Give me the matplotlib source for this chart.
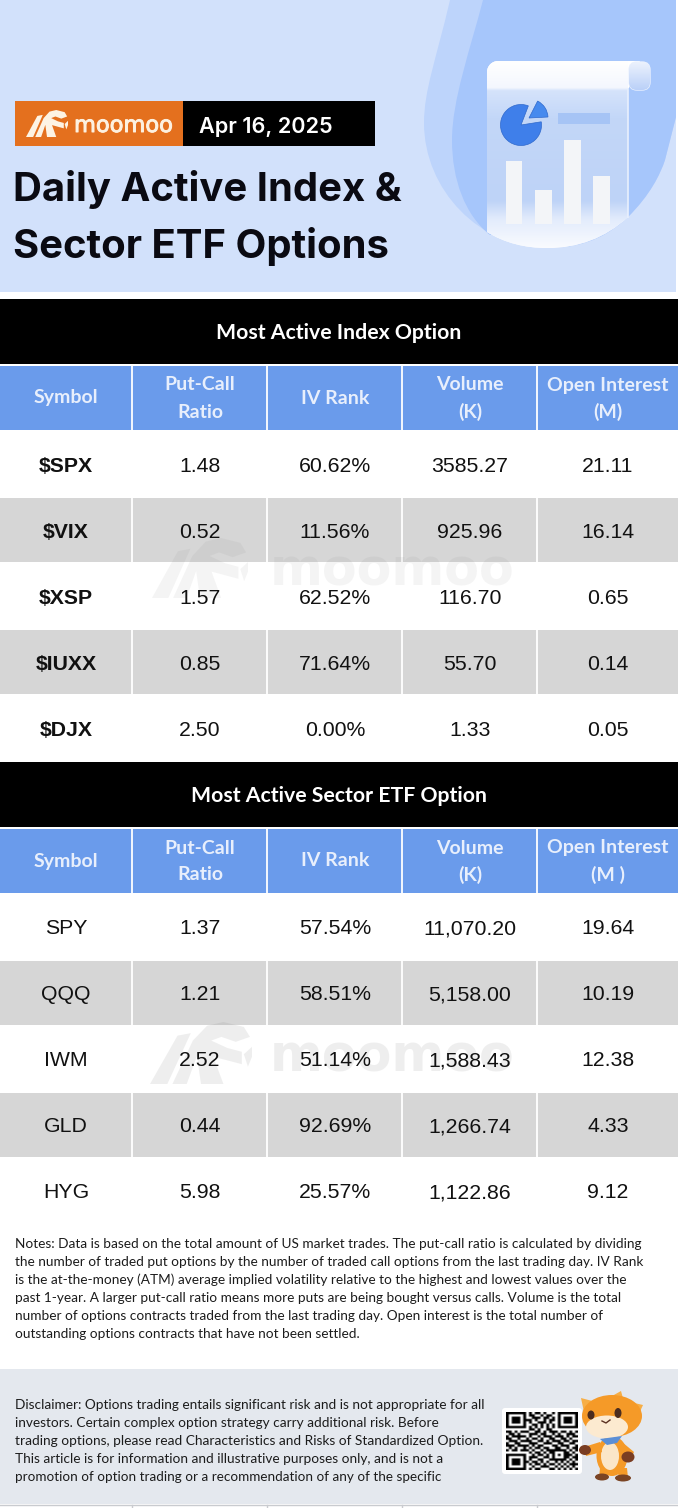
import numpy as np
import matplotlib
matplotlib.use("Agg")
import matplotlib.pyplot as plt
import matplotlib.patheffects as pe
from matplotlib.colors import LinearSegmentedColormap
from matplotlib.patches import Rectangle, Ellipse, Polygon, PathPatch, Wedge, FancyBboxPatch
from matplotlib.path import Path

W, H = 678, 1508

columns = [66, 200, 335, 470, 608]
col_lines = [132, 267, 402, 537]

index_title = "Most Active Index Option"
index_headers = [["Symbol"], ["Put-Call", "Ratio"], ["IV Rank"], ["Volume", "(K)"], ["Open Interest", "(M)"]]
index_symbols = ["$SPX", "$VIX", "$XSP", "$IUXX", "$DJX"]
index_ratio = ["1.48", "0.52", "1.57", "0.85", "2.50"]
index_rank = ["60.62%", "11.56%", "62.52%", "71.64%", "0.00%"]
index_volume = ["3585.27", "925.96", "116.70", "55.70", "1.33"]
index_oi = ["21.11", "16.14", "0.65", "0.14", "0.05"]

etf_title = "Most Active Sector ETF Option"
etf_headers = [["Symbol"], ["Put-Call", "Ratio"], ["IV Rank"], ["Volume", "(K)"], ["Open Interest", "(M )"]]
etf_symbols = ["SPY", "QQQ", "IWM", "GLD", "HYG"]
etf_ratio = ["1.37", "1.21", "2.52", "0.44", "5.98"]
etf_rank = ["57.54%", "58.51%", "51.14%", "92.69%", "25.57%"]
etf_volume = ["11,070.20", "5,158.00", "1,588.43", "1,266.74", "1,122.86"]
etf_oi = ["19.64", "10.19", "12.38", "4.33", "9.12"]

notes = [
    "Notes: Data is based on the total amount of US market trades. The put-call ratio is calculated by dividing",
    "the number of traded put options by the number of traded call options from the last trading day. IV Rank",
    "is the at-the-money (ATM) average implied volatility relative to the highest and lowest values over the",
    "past 1-year. A larger put-call ratio means more puts are being bought versus calls. Volume is the total",
    "number of options contracts traded from the last trading day. Open interest is the total number of",
    "outstanding options contracts that have not been settled.",
]
notes_right = [639, 638, 623, 618, 602, 359]

disclaimer = [
    "Disclaimer: Options trading entails significant risk and is not appropriate for all",
    "investors. Certain complex option strategy carry additional risk. Before",
    "trading options, please read Characteristics and Risks of Standardized Option.",
    "This article is for information and illustrative purposes only, and is not a",
    "promotion of option trading or a recommendation of any of the specific",
]
disclaimer_right = [483, 438, 485, 441, 441]

# heights of the bars in the little banner picture
banner_bars = [63, 34, 84, 48]

qr_rows = [
    "1111111010110100101111111",
    "1000001011001011001000001",
    "1011101001110110101011101",
    "1011101110100101101011101",
    "1011101010011101001011101",
    "1000001001101010101000001",
    "1111111010101010101111111",
    "0000000011010011000000000",
    "1101011100110101110110101",
    "0110100011101100101001110",
    "1011111010010111011101011",
    "1100100101101001100110100",
    "0111011110011010111011011",
    "1001100011100111001100110",
    "1110111101011000110111001",
    "0101001010110110011001011",
    "1011011101001011111110101",
    "0000000010110101100011010",
    "1111111001011010101011101",
    "1000001011100110100011011",
    "1011101010011001111110101",
    "1011101101101010010101010",
    "1011101010110101101010111",
    "1000001001001110010101010",
    "1111111010110001101010101",
]

plt.rcParams["font.family"] = ["Liberation Sans", "DejaVu Sans"]

fig = plt.figure(figsize=(W / 100, H / 100), dpi=100, facecolor="white")
ax = fig.add_axes([0, 0, 1, 1])
ax.set_xlim(0, W)
ax.set_ylim(H, 0)
ax.axis("off")


def box(x0, y0, x1, y1, color, z=1, **kw):
    ax.add_patch(Rectangle((x0, y0), x1 - x0, y1 - y0, facecolor=color, edgecolor="none", zorder=z, **kw))


def gradient(x0, y0, x1, y1, colors, clip=None, z=2, horizontal=False):
    cmap = LinearSegmentedColormap.from_list("g", colors)
    g = np.linspace(0, 1, 256).reshape(-1, 1)
    if horizontal:
        g = g.T
    im = ax.imshow(g, cmap=cmap, extent=(x0, x1, y1, y0), aspect="auto", zorder=z, vmin=0, vmax=1)
    if clip is not None:
        im.set_clip_path(clip)
    return im


def curve(points, color, z=2, **kw):
    verts, codes = [points[0]], [Path.MOVETO]
    for p in points[1:]:
        if len(p) == 3:
            verts += list(p)
            codes += [Path.CURVE4] * 3
        else:
            verts.append(p)
            codes.append(Path.LINETO)
    verts.append(points[0])
    codes.append(Path.CLOSEPOLY)
    patch = PathPatch(Path(verts, codes), facecolor=color, edgecolor="none", zorder=z, **kw)
    ax.add_patch(patch)
    return patch


def bull(x, y, sx, sy, color, alpha=1.0, z=4):
    # rough outline of the logo, x/y is the lower left corner, sx/sy are px per unit
    shapes = [
        [(0, 1), (0.27, 0.22), (0.40, 0.18), (0.17, 1)],
        [(0.22, 1), (0.42, 0.3), (0.56, 0.06), (0.72, 0), (0.92, 0.08), (0.98, 0.24), (0.84, 0.32),
         (0.70, 0.24), (0.60, 0.30), (0.76, 0.42), (0.90, 0.48), (0.90, 0.68), (0.76, 0.62),
         (0.62, 0.56), (0.72, 1), (0.50, 1), (0.46, 0.55), (0.36, 1)],
        [(0.92, 0.52), (1.0, 0.40), (1.0, 0.56), (0.96, 0.72)],
    ]
    for shape in shapes:
        pts = [(x + px * sx, y + (py - 1) * sy) for px, py in shape]
        ax.add_patch(Polygon(pts, closed=True, facecolor=color, edgecolor="none", alpha=alpha, zorder=z))


def fit_text(x, y, s, right, size=10):
    t = ax.text(x, y, s, fontsize=size, family="Lato", color="#1c1c1c", va="center", ha="left", zorder=6)
    width = t.get_window_extent(renderer).width
    t.set_fontsize(size * (right - x) / width)
    return t


renderer = fig.canvas.get_renderer()

# banner
box(0, 0, 676, 292, "#D2E1FB")
curve([(450, 0), ((436, 60), (424, 90), (424, 123)), ((424, 190), (480, 248), (547, 248)),
       ((590, 248), (612, 232), (628, 217)), ((650, 195), (660, 175), (665, 160)), (676, 117), (676, 0)],
      "#BDD4FB", z=1.2)
curve([(483, 0), ((470, 50), (452, 100), (452, 140)), ((452, 180), (465, 215), (490, 235)), (628, 217),
       ((650, 195), (660, 175), (665, 160)), (676, 117), (676, 0)], "#A6C6FB", z=1.3)

scroll = curve([(487, 72), ((487, 66), (492, 61), (498, 61)), (640, 61), (628, 90), (628, 217),
                ((605, 238), (578, 248), (547, 248)), ((525, 248), (505, 243), (487, 232))], "white", z=2)
gradient(487, 61, 628, 250, [(0, "#FFFFFF"), (0.14, "#F4F7FE"), (0.155, "#D5E3FB"), (0.3, "#C3D7F8"),
                             (0.74, "#BED3F7"), (0.84, "#E3ECFC"), (1, "#FBFCFF")], clip=scroll, z=2.1)
curl = FancyBboxPatch((630, 63), 19, 26, boxstyle="round,pad=1,rounding_size=8", facecolor="#D4E2FA",
                      edgecolor="#EAF1FE", lw=1, zorder=2.2)
ax.add_patch(curl)
gradient(628, 61, 651, 91, ["#EEF3FD", "#B8CFF8"], clip=curl, z=2.3)
ax.plot([628, 628], [90, 217], color="#E9F0FD", lw=1.2, zorder=2.4)

ax.add_patch(Wedge((521, 125), 20.5, -9, 291, facecolor="#3F7FEA", edgecolor="#2F69CC", lw=0.5, zorder=3))
ax.add_patch(Wedge((529, 118), 19, -63, -3, facecolor="#468AEE", edgecolor="#2F69CC", lw=0.5, zorder=3))
box(558, 113, 610, 124, "#A6C4F5", z=3)
ax.bar([514, 543.5, 572.5, 601.5], [-h for h in banner_bars], width=16.5, bottom=224, color="#F3F5F8", zorder=3)

box(15, 101, 183, 146, "#E4701E", z=3)
box(183, 101, 375, 146, "black", z=3)
bull(26, 137, 42, 27, "#FDF3E3")
ax.text(74, 132, "moomoo", fontsize=16.2, family="DejaVu Sans", color="#FDF1E0", va="baseline", ha="left", zorder=5,
        path_effects=[pe.withStroke(linewidth=0.7, foreground="#FDF1E0")])
ax.text(199, 133, "Apr 16, 2025", fontsize=15.6, family="Inter", weight="semibold", color="white", va="baseline", zorder=5)
ax.text(13, 201, "Daily Active Index &", fontsize=28.8, family="Inter", weight="bold", color="#0A0A12", va="baseline", zorder=5)
ax.text(13, 258, "Sector ETF Options", fontsize=28.8, family="Inter", weight="bold", color="#0A0A12", va="baseline", zorder=5)


def draw_table(top, title, headers, symbols, ratio, rank, volume, oi, bold):
    box(0, top, W, top + 65, "black")
    ax.text(W / 2, top + 34, title, fontsize=15.3, family="Lato", weight="bold", color="white", ha="center", va="center", zorder=6)
    box(0, top + 67, W, top + 131, "#6A9BEB")
    for col, lines in zip(columns, headers):
        if len(lines) == 1:
            ys = [top + 99]
        else:
            ys = [top + 86, top + 113]
        for line, y in zip(lines, ys):
            ax.text(col, y, line, fontsize=14, family="Lato", weight="bold", color="#E8EFFC", ha="center", va="center", zorder=6)

    rows = list(zip(symbols, ratio, rank, volume, oi))
    y0 = top + 133
    for i, row in enumerate(rows):
        y = y0 + i * 66
        if i % 2 == 1:
            box(0, y, W, y + 64, "#D6D6D6")
        cy = y + 34
        for j, (col, value) in enumerate(zip(columns, row)):
            w = "bold" if (j == 0 and bold) else "normal"
            ax.text(col, cy, value, fontsize=15.3, weight=w, color="#111111", ha="center", va="center", zorder=6)
    for x in col_lines:
        ax.plot([x, x], [top + 67, y0 + 3 * 66 + 64], color="white", lw=1.3, zorder=1.5)


draw_table(299, index_title, index_headers, index_symbols, index_ratio, index_rank, index_volume, index_oi, True)
draw_table(762, etf_title, etf_headers, etf_symbols, etf_ratio, etf_rank, etf_volume, etf_oi, False)

# watermarks behind the values
bull(152, 598, 96, 60, "#777777", alpha=0.08, z=3)
ax.text(270, 585, "moomoo", fontsize=36.5, family="DejaVu Sans", weight="bold", color="#777777", alpha=0.08, va="baseline", zorder=3)
bull(150, 1084, 102, 62, "#777777", alpha=0.12, z=3)
ax.text(270, 1071, "moomoo", fontsize=36.5, family="DejaVu Sans", weight="bold", color="#777777", alpha=0.12, va="baseline", zorder=3)

# notes
for i, (line, right) in enumerate(zip(notes, notes_right)):
    fit_text(15, 1244 + i * 18, line, right)

# disclaimer panel
box(0, 1369, W, 1504, "#E4E8EE")
for i, (line, right) in enumerate(zip(disclaimer, disclaimer_right)):
    fit_text(15, 1405 + i * 18, line, right)
ax.plot([0, W], [1505, 1505], color="#C9CBCF", lw=1, zorder=2)
for x in col_lines:
    ax.plot([x, x], [1505, H], color="#C9CBCF", lw=1, zorder=2)

# QR code
ax.add_patch(FancyBboxPatch((504, 1410), 76, 62, boxstyle="round,pad=2,rounding_size=3", facecolor="white", edgecolor="none", zorder=3))
qr = np.array([[int(c) for c in row] for row in qr_rows])
ax.imshow(1 - qr, cmap="gray", extent=(506, 578, 1470, 1412), aspect="auto", interpolation="antialiased", zorder=4, vmin=0, vmax=1)

# mascot
orange = "#F59A28"
ax.add_patch(Polygon([(605, 1400), (621, 1391), (624, 1402)], facecolor="#F7AE45", zorder=5))
ax.add_patch(Polygon([(630, 1402), (643, 1405), (638, 1416)], facecolor="#F7AE45", zorder=5))
ax.add_patch(Polygon([(584, 1412), (581, 1398), (596, 1402)], facecolor="#F7AE45", zorder=5))
ax.add_patch(Ellipse((612, 1456), 31, 40, facecolor=orange, zorder=5))
ax.add_patch(Ellipse((610, 1456), 18, 28, facecolor="#FBE6C8", zorder=5.1))
ax.add_patch(Polygon([(600, 1468), (609, 1470), (607, 1478), (599, 1478)], facecolor=orange, zorder=5))
ax.add_patch(Polygon([(617, 1468), (627, 1468), (628, 1478), (619, 1478)], facecolor=orange, zorder=5))
ax.add_patch(Ellipse((602, 1477), 14, 7, facecolor="#7A4424", zorder=5.3))
ax.add_patch(Ellipse((623, 1478), 16, 7, facecolor="#7A4424", zorder=5.3))
ax.add_patch(Polygon([(600, 1442), (584, 1447), (586, 1456), (602, 1452)], facecolor=orange, zorder=5.1))
ax.add_patch(Polygon([(622, 1442), (634, 1452), (630, 1460), (620, 1452)], facecolor=orange, zorder=5.1))
ax.add_patch(Ellipse((585, 1450), 12, 10, facecolor="#7A3D22", zorder=5.3))
ax.add_patch(Ellipse((628, 1457), 13, 11, facecolor="#7A3D22", zorder=5.3))
ax.add_patch(Ellipse((612, 1416), 60, 42, facecolor=orange, zorder=5.4))
ax.add_patch(Ellipse((607, 1427), 42, 23, facecolor="#FCEAD0", zorder=5.5))
ax.add_patch(Ellipse((591, 1415), 7, 9, facecolor="#4B2C1E", zorder=5.6))
ax.add_patch(Ellipse((618, 1413), 7, 10, facecolor="#4B2C1E", zorder=5.6))
ax.plot([602, 606, 610], [1421, 1423, 1420], color="#5A3020", lw=1, zorder=5.7)
ax.add_patch(Polygon([(600, 1439), (622, 1436), (617, 1443), (607, 1445)], facecolor="#5B8FD6", zorder=5.6))

fig.savefig("out.png", dpi=100)
